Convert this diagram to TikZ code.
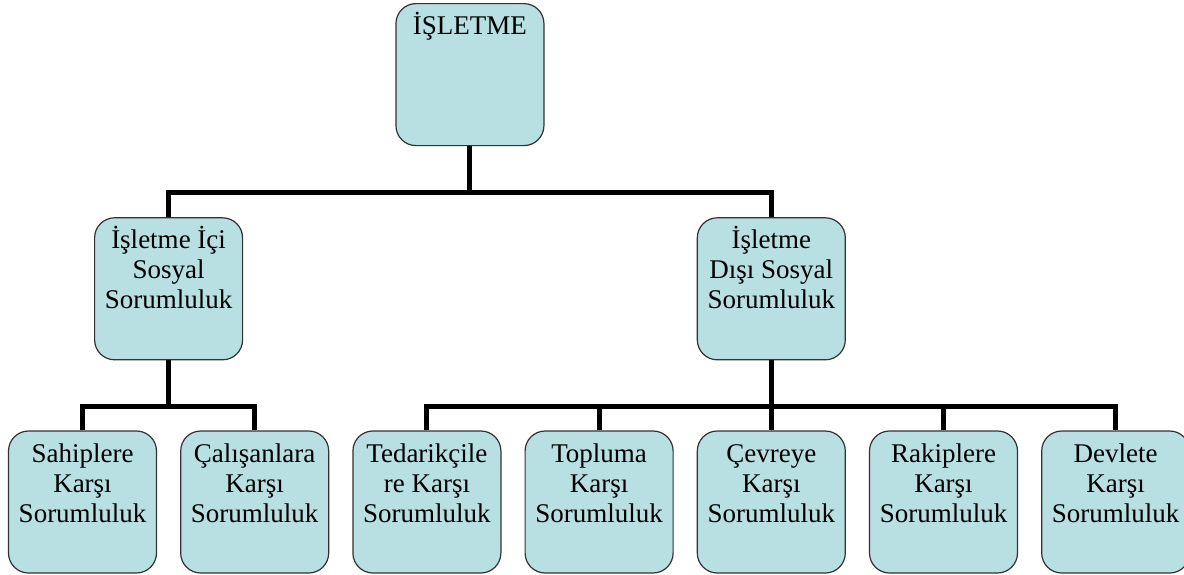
\documentclass[tikz,border=0pt]{standalone}
\usepackage{fontspec}
\setmainfont{Liberation Serif}
\usetikzlibrary{positioning, calc}
\definecolor{boxfill}{RGB}{184,223,226}
\definecolor{boxline}{RGB}{50,50,50}
\newcommand{\celltext}[1]{\parbox[c][71pt][t]{74pt}{\centering\lineskiplimit=-100pt\rule{0pt}{15.5pt}#1}}

\begin{document}
\begin{tikzpicture}[
        node distance=35pt and 11.5pt,
        box/.style={rectangle, draw=boxline, line width=0.6pt, fill=boxfill, rounded corners=10pt, minimum width=74pt, minimum height=71pt, inner sep=0pt, font=\fontsize{13.5}{15}\selectfont},
        conn/.style={line width=2.5pt, black}
    ]
        \useasboundingbox (0,0) rectangle (592pt,-287pt);

        % alt sira
        \node[box] (b1) at (41.25pt,-251pt) {\celltext{Sahiplere\\Karşı\\Sorumluluk}};
        \node[box, right=of b1] (b2) {\celltext{Çalışanlara\\Karşı\\Sorumluluk}};
        \node[box, right=of b2] (b3) {\celltext{Tedarikçile\\re Karşı\\Sorumluluk}};
        \node[box, right=of b3] (b4) {\celltext{Topluma\\Karşı\\Sorumluluk}};
        \node[box, right=of b4] (b5) {\celltext{Çevreye\\Karşı\\Sorumluluk}};
        \node[box, right=of b5] (b6) {\celltext{Rakiplere\\Karşı\\Sorumluluk}};
        \node[box, right=of b6] (b7) {\celltext{Devlete\\Karşı\\Sorumluluk}};

        % orta sira
        \node[box, above=of b5] (dis) {\celltext{İşletme\\Dışı Sosyal\\Sorumluluk}};
        \coordinate (icx) at ($(b1)!0.5!(b2)$);
        \node[box] (ic) at (icx |- dis) {\celltext{İşletme İçi\\Sosyal\\Sorumluluk}};

        % ust
        \coordinate (midtop) at ($(ic.north)!0.5!(dis.north)$);
        \node[box, above=35.5pt of midtop] (top) {\celltext{İŞLETME}};

        % baglantilar
        \coordinate (bus1) at ($(top.south)+(0,-23pt)$);
        \coordinate (bus2) at ($(ic.south)+(0,-23pt)$);
        \coordinate (bus3) at ($(dis.south)+(0,-23pt)$);

        \draw[conn] (top.south) -- (bus1);
        \draw[conn] (ic.north) |- (bus1) -| (dis.north);
        \draw[conn] (ic.south) -- (bus2);
        \draw[conn] (b1.north) |- (bus2) -| (b2.north);
        \draw[conn] (dis.south) -- (bus3);
        \draw[conn] (b3.north) |- (bus3) -| (b7.north);
        \foreach \n in {b4, b5, b6}
            \draw[conn] (\n.north) -- (\n.north |- bus3);
\end{tikzpicture}
\end{document}
